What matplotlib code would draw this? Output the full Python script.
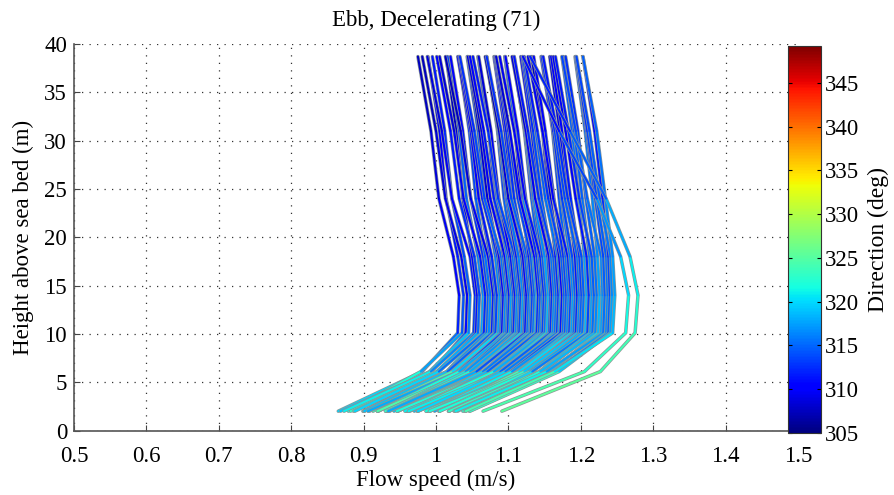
import numpy as np
import matplotlib
matplotlib.use("Agg")
import matplotlib.pyplot as plt
from matplotlib.collections import LineCollection
from matplotlib.colors import Normalize
from matplotlib.cm import ScalarMappable

plt.rcParams['font.family'] = ['Liberation Serif', 'DejaVu Serif']

# bin heights above sea bed (m)
heights = [2.0, 6.1, 10.1, 14.0, 18.0, 24.0, 31.0, 38.7]

# flow speed (m/s) of the 71 profiles at each bin height
spd_02 = [0.865, 0.879, 0.868, 0.882, 0.873, 0.899, 0.886, 0.900, 0.888, 0.901,
          0.913, 0.901, 0.908, 0.919, 0.907, 0.920, 0.906, 0.933, 0.920, 0.931,
          0.919, 0.931, 0.942, 0.930, 0.936, 0.947, 0.935, 0.947, 0.934, 0.960,
          0.947, 0.959, 0.946, 0.959, 0.970, 0.957, 0.964, 0.974, 0.962, 0.975,
          0.962, 0.988, 0.975, 0.987, 0.975, 0.987, 0.998, 0.986, 0.992, 1.004,
          0.991, 1.004, 0.991, 1.018, 1.005, 1.017, 1.005, 1.018, 1.030, 1.018,
          1.025, 1.037, 1.026, 1.039, 1.027, 1.046, 1.041, 1.047, 1.041, 1.065, 1.091]
spd_06 = [0.981, 0.979, 0.994, 0.991, 0.993, 1.004, 1.001, 1.015, 1.004, 1.015,
          1.020, 1.016, 1.029, 1.025, 1.023, 1.035, 1.031, 1.042, 1.032, 1.041,
          1.046, 1.041, 1.053, 1.050, 1.047, 1.058, 1.055, 1.067, 1.056, 1.065,
          1.070, 1.065, 1.077, 1.074, 1.071, 1.083, 1.079, 1.090, 1.080, 1.089,
          1.094, 1.089, 1.102, 1.098, 1.096, 1.108, 1.103, 1.115, 1.105, 1.114,
          1.119, 1.115, 1.127, 1.124, 1.122, 1.134, 1.130, 1.143, 1.133, 1.143,
          1.148, 1.144, 1.158, 1.156, 1.153, 1.166, 1.163, 1.170, 1.164, 1.205, 1.227]
spd_10 = [1.030, 1.036, 1.041, 1.045, 1.052, 1.055, 1.058, 1.063, 1.066, 1.070,
          1.073, 1.077, 1.080, 1.082, 1.086, 1.089, 1.091, 1.094, 1.097, 1.099,
          1.102, 1.105, 1.107, 1.110, 1.113, 1.115, 1.118, 1.121, 1.123, 1.126,
          1.129, 1.131, 1.134, 1.137, 1.139, 1.142, 1.145, 1.147, 1.150, 1.153,
          1.156, 1.158, 1.161, 1.164, 1.167, 1.170, 1.172, 1.175, 1.178, 1.181,
          1.184, 1.187, 1.190, 1.193, 1.196, 1.199, 1.202, 1.206, 1.209, 1.213,
          1.216, 1.220, 1.224, 1.228, 1.231, 1.235, 1.238, 1.241, 1.244, 1.262, 1.275]
spd_14 = [1.032, 1.038, 1.043, 1.047, 1.054, 1.057, 1.060, 1.065, 1.068, 1.072,
          1.075, 1.079, 1.082, 1.084, 1.088, 1.091, 1.093, 1.096, 1.099, 1.101,
          1.104, 1.107, 1.109, 1.112, 1.115, 1.117, 1.120, 1.123, 1.125, 1.128,
          1.131, 1.133, 1.136, 1.139, 1.141, 1.144, 1.147, 1.149, 1.152, 1.155,
          1.158, 1.160, 1.163, 1.166, 1.169, 1.172, 1.174, 1.177, 1.180, 1.183,
          1.186, 1.189, 1.192, 1.195, 1.198, 1.201, 1.204, 1.208, 1.211, 1.215,
          1.218, 1.222, 1.226, 1.230, 1.233, 1.237, 1.240, 1.243, 1.247, 1.266, 1.279]
spd_18 = [1.024, 1.030, 1.035, 1.039, 1.047, 1.050, 1.053, 1.058, 1.061, 1.065,
          1.068, 1.072, 1.075, 1.077, 1.082, 1.085, 1.087, 1.090, 1.093, 1.095,
          1.098, 1.101, 1.103, 1.106, 1.109, 1.111, 1.114, 1.118, 1.120, 1.123,
          1.126, 1.128, 1.131, 1.134, 1.136, 1.139, 1.142, 1.144, 1.147, 1.150,
          1.154, 1.156, 1.159, 1.162, 1.165, 1.168, 1.170, 1.173, 1.176, 1.179,
          1.182, 1.185, 1.188, 1.192, 1.195, 1.198, 1.201, 1.205, 1.208, 1.212,
          1.215, 1.219, 1.223, 1.228, 1.231, 1.235, 1.238, 1.241, 1.244, 1.255, 1.268]
spd_24 = [1.004, 1.014, 1.013, 1.022, 1.022, 1.037, 1.032, 1.042, 1.038, 1.048,
          1.055, 1.048, 1.059, 1.059, 1.068, 1.064, 1.071, 1.067, 1.081, 1.075,
          1.084, 1.080, 1.087, 1.094, 1.086, 1.097, 1.098, 1.105, 1.100, 1.108,
          1.104, 1.118, 1.113, 1.121, 1.116, 1.124, 1.132, 1.123, 1.134, 1.135,
          1.142, 1.137, 1.146, 1.142, 1.156, 1.151, 1.158, 1.155, 1.163, 1.170,
          1.162, 1.173, 1.174, 1.182, 1.178, 1.186, 1.182, 1.197, 1.193, 1.202,
          1.198, 1.207, 1.216, 1.209, 1.220, 1.222, 1.230, 1.226, 1.234, 1.222, 1.235]
spd_31 = [0.993, 1.005, 1.000, 1.012, 1.008, 1.028, 1.020, 1.032, 1.025, 1.037,
          1.046, 1.034, 1.049, 1.048, 1.058, 1.050, 1.060, 1.053, 1.073, 1.063,
          1.074, 1.066, 1.076, 1.085, 1.072, 1.086, 1.086, 1.095, 1.087, 1.097,
          1.090, 1.109, 1.100, 1.110, 1.102, 1.113, 1.122, 1.108, 1.123, 1.123,
          1.132, 1.124, 1.134, 1.127, 1.147, 1.138, 1.148, 1.140, 1.151, 1.161,
          1.147, 1.162, 1.162, 1.171, 1.164, 1.174, 1.167, 1.188, 1.179, 1.191,
          1.183, 1.196, 1.206, 1.193, 1.208, 1.209, 1.219, 1.212, 1.222, 1.170, 1.185]
spd_39 = [0.975, 0.989, 0.981, 0.995, 0.988, 1.014, 1.001, 1.016, 1.005, 1.020,
          1.031, 1.013, 1.032, 1.030, 1.043, 1.032, 1.044, 1.033, 1.058, 1.044,
          1.058, 1.047, 1.059, 1.070, 1.051, 1.070, 1.069, 1.080, 1.068, 1.081,
          1.070, 1.095, 1.082, 1.095, 1.083, 1.096, 1.108, 1.088, 1.107, 1.106,
          1.117, 1.105, 1.119, 1.108, 1.133, 1.120, 1.132, 1.122, 1.135, 1.146,
          1.127, 1.146, 1.145, 1.157, 1.146, 1.159, 1.148, 1.174, 1.162, 1.176,
          1.165, 1.179, 1.192, 1.174, 1.193, 1.193, 1.203, 1.194, 1.203, 1.120, 1.130]

# flow direction (deg) of the same profiles at each bin height
dir_02 = [322, 324, 321, 325, 323, 320, 324, 326, 322, 323,
          325, 321, 324, 322, 326, 323, 320, 325, 324, 322,
          327, 323, 321, 325, 324, 322, 326, 323, 320, 324,
          325, 322, 324, 326, 321, 323, 325, 322, 324, 327,
          323, 321, 325, 324, 322, 326, 320, 324, 323, 325,
          322, 326, 324, 321, 325, 323, 324, 326, 322, 325,
          323, 324, 326, 325, 323, 324, 322, 325, 326, 325, 326]
dir_06 = [318, 320, 317, 321, 319, 316, 320, 322, 318, 319,
          321, 317, 320, 318, 322, 319, 316, 321, 320, 318,
          322, 319, 317, 321, 320, 318, 322, 319, 316, 320,
          321, 318, 320, 322, 317, 319, 321, 318, 320, 322,
          319, 317, 321, 320, 318, 322, 316, 320, 319, 321,
          318, 322, 320, 317, 321, 319, 320, 322, 318, 321,
          319, 320, 322, 321, 319, 320, 318, 321, 322, 324, 325]
dir_10 = [313, 315, 312, 317, 314, 312, 316, 318, 313, 315,
          317, 313, 316, 314, 318, 315, 312, 317, 316, 314,
          318, 315, 313, 317, 316, 314, 318, 315, 312, 316,
          317, 314, 316, 319, 313, 315, 317, 314, 316, 319,
          315, 313, 317, 316, 314, 318, 312, 316, 315, 317,
          314, 318, 316, 313, 317, 315, 316, 319, 314, 318,
          316, 317, 319, 318, 316, 317, 315, 318, 319, 322, 323]
dir_14 = [311, 313, 310, 315, 312, 311, 314, 317, 312, 314,
          316, 311, 315, 313, 317, 314, 311, 316, 315, 312,
          317, 314, 312, 316, 315, 313, 317, 314, 311, 315,
          316, 313, 315, 318, 312, 314, 316, 313, 315, 318,
          314, 312, 316, 315, 313, 317, 311, 315, 314, 316,
          313, 317, 315, 312, 316, 314, 315, 318, 313, 317,
          315, 316, 318, 317, 315, 316, 314, 317, 318, 321, 322]
dir_18 = [310, 312, 309, 314, 311, 310, 313, 316, 311, 313,
          315, 310, 314, 312, 316, 313, 310, 315, 314, 311,
          316, 313, 311, 315, 314, 312, 316, 313, 310, 314,
          315, 312, 314, 317, 311, 313, 315, 312, 314, 317,
          313, 311, 315, 314, 312, 316, 310, 314, 313, 315,
          312, 316, 314, 311, 315, 313, 314, 317, 312, 316,
          314, 315, 317, 316, 314, 315, 313, 316, 317, 319, 320]
dir_24 = [309, 311, 309, 313, 310, 309, 312, 315, 310, 312,
          314, 309, 313, 311, 315, 312, 309, 314, 313, 310,
          315, 312, 310, 314, 313, 311, 315, 312, 309, 313,
          314, 311, 313, 316, 310, 312, 314, 311, 313, 316,
          312, 310, 314, 313, 311, 315, 309, 313, 312, 314,
          311, 315, 313, 310, 314, 312, 313, 316, 311, 315,
          313, 314, 316, 315, 313, 314, 312, 315, 316, 315, 316]
dir_31 = [308, 310, 308, 312, 309, 308, 311, 314, 309, 311,
          313, 308, 312, 310, 314, 311, 308, 313, 312, 309,
          314, 311, 309, 313, 312, 310, 314, 311, 308, 312,
          313, 310, 312, 315, 309, 311, 313, 310, 312, 315,
          311, 309, 313, 312, 310, 314, 308, 312, 311, 313,
          310, 314, 312, 309, 313, 311, 312, 315, 310, 314,
          312, 313, 315, 314, 312, 313, 311, 314, 315, 312, 313]
dir_39 = [307, 309, 307, 311, 308, 307, 310, 313, 308, 310,
          312, 307, 311, 309, 313, 310, 307, 312, 311, 308,
          313, 310, 308, 312, 311, 309, 313, 310, 307, 311,
          312, 309, 311, 314, 308, 310, 312, 309, 311, 314,
          310, 308, 312, 311, 309, 313, 307, 311, 310, 312,
          309, 313, 311, 308, 312, 310, 311, 314, 309, 313,
          311, 312, 314, 313, 311, 312, 310, 313, 314, 310, 311]

xtick_values = [0.5, 0.6, 0.7, 0.8, 0.9, 1.0, 1.1, 1.2, 1.3, 1.4, 1.5]
xtick_labels = ['0.5', '0.6', '0.7', '0.8', '0.9', '1', '1.1', '1.2', '1.3', '1.4', '1.5']
ytick_values = [0, 5, 10, 15, 20, 25, 30, 35, 40]
cbar_ticks = [305, 310, 315, 320, 325, 330, 335, 340, 345]
dir_range = (305, 349.2)

speed = np.array([spd_02, spd_06, spd_10, spd_14, spd_18, spd_24, spd_31, spd_39]).T
direc = np.array([dir_02, dir_06, dir_10, dir_14, dir_18, dir_24, dir_31, dir_39]).T

fs = 16.5
fig = plt.figure(figsize=(8.94, 4.95), dpi=100)
ax = fig.add_axes([0.0828, 0.1303, 0.8098, 0.7808])

norm = Normalize(*dir_range)
for i in range(speed.shape[0]):
    # grey rim under each profile, then the direction-coloured core
    ax.plot(speed[i], heights, color='#8c9696', lw=2.5, solid_joinstyle='round',
            solid_capstyle='round', zorder=2 + i * 0.01)
    pts = np.column_stack([speed[i], heights])
    segs = [pts[k:k + 2] for k in range(len(heights) - 1)]
    cols = [0.5 * (direc[i, k] + direc[i, k + 1]) for k in range(len(heights) - 1)]
    lc = LineCollection(segs, cmap='jet', norm=norm, linewidths=1.5,
                        capstyle='round', zorder=2.005 + i * 0.01)
    lc.set_array(np.array(cols))
    ax.add_collection(lc)

ax.set_xlim(0.5, 1.5)
ax.set_ylim(0, 40)
ax.set_xticks(xtick_values)
ax.set_xticklabels(xtick_labels)
ax.set_yticks(ytick_values)
ax.tick_params(direction='in', length=4, color='#444444', labelsize=fs)
ax.tick_params(axis='x', pad=11)
ax.tick_params(axis='y', pad=5)
for side in ['top', 'right']:
    ax.spines[side].set_visible(False)
for side in ['left', 'bottom']:
    ax.spines[side].set_color('#555555')
    ax.spines[side].set_linewidth(1.2)
ax.grid(True, linestyle=(0, (1, 5)), color='#333333', linewidth=0.9)
ax.set_axisbelow(True)

ax.set_title('Ebb, Decelerating (71)', fontsize=fs, pad=13)
ax.set_xlabel('Flow speed (m/s)', fontsize=fs, labelpad=2)
ax.set_ylabel('Height above sea bed (m)', fontsize=fs, labelpad=7)

cax = fig.add_axes([0.8814, 0.1253, 0.0369, 0.7818])
cb = fig.colorbar(ScalarMappable(norm=norm, cmap='jet'), cax=cax)
cb.set_ticks(cbar_ticks)
cb.ax.tick_params(direction='in', length=3, labelsize=fs, left=True, right=True, pad=3)
cb.outline.set_edgecolor('#333333')
cb.set_label('Direction (deg)', fontsize=17, labelpad=6)

fig.savefig('out.png', dpi=100)
